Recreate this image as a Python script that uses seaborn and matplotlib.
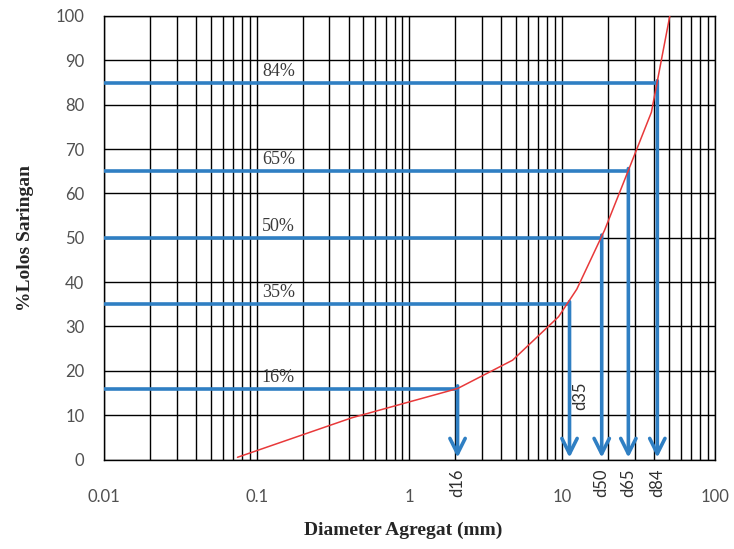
import numpy as np
import pandas as pd
import matplotlib
matplotlib.use("Agg")
import matplotlib.pyplot as plt
from matplotlib.ticker import FixedLocator, FixedFormatter, LogLocator, NullFormatter
import seaborn as sns

# ---- data ----
sieve_mm = [0.075, 0.42, 2.07, 4.75, 9.5, 12.5, 19.0, 25.0, 38.5, 50.8]
passing_pct = [0.5, 9.4, 16.0, 22.4, 32.2, 38.4, 51.7, 62.0, 78.3, 100.0]

pct_levels = [16.0, 35.0, 50.0, 65.0, 84.8]
pct_labels = ["16%", "35%", "50%", "65%", "84%"]
d_values = [2.07, 11.2, 18.2, 27.2, 42.1]
d_labels = ["d16", "d35", "d50", "d65", "d84"]

x_ticks = [0.01, 0.1, 1, 10, 100]
x_tick_labels = ["0.01", "0.1", "1", "10", "100"]
y_ticks = list(range(0, 101, 10))

x_label = "Diameter Agregat (mm)"
y_label = "%Lolos Saringan"

# ---- styling ----
sns.set_style("white")
plt.rcParams["font.family"] = ["Lato", "DejaVu Sans"]

blue = "#2F7FC3"
red = "#E8393A"
grey_txt = "#505050"

fig = plt.figure(figsize=(7.34, 5.49), dpi=100)
ax = fig.add_axes([103.9 / 734, 1 - 459.5 / 549, 610.8 / 734, 443.5 / 549])

ax.set_xscale("log")
ax.set_xlim(0.01, 100)
ax.set_ylim(0, 100)

# grid
ax.xaxis.set_major_locator(FixedLocator(x_ticks))
ax.xaxis.set_major_formatter(FixedFormatter(x_tick_labels))
ax.xaxis.set_minor_locator(LogLocator(base=10, subs=np.arange(2, 10)))
ax.xaxis.set_minor_formatter(NullFormatter())
ax.set_yticks(y_ticks)
ax.grid(True, which="both", axis="x", color="black", lw=1.0, zorder=0)
ax.grid(True, which="major", axis="y", color="black", lw=1.0, zorder=0)
ax.set_axisbelow(True)

for s in ax.spines.values():
    s.set_color("black")
    s.set_linewidth(1.0)

ax.tick_params(axis="x", which="major", direction="out", length=6, width=1,
               color="black", pad=15, labelsize=12, labelcolor=grey_txt)
ax.tick_params(axis="x", which="minor", length=0)
ax.tick_params(axis="y", which="major", direction="out", length=6, width=1,
               color="black", pad=8, labelsize=12, labelcolor=grey_txt)

# blue guide lines
ax.hlines(pct_levels, xmin=0.01, xmax=d_values, colors=blue, lw=2.6, zorder=3)
for lvl, lab in zip(pct_levels, pct_labels):
    ax.text(0.139, lvl + 2.6, lab, ha="center", va="center", fontsize=13,
            family="Liberation Serif", color="#3a3a3a", zorder=5)
for d, lvl in zip(d_values, pct_levels):
    ax.annotate("", xy=(d, 0.4), xytext=(d, lvl + 0.6),
                arrowprops=dict(arrowstyle="->,head_length=11,head_width=5.5",
                                mutation_scale=1, color=blue, lw=2.6,
                                shrinkA=0, shrinkB=0),
                zorder=3)

# red grading curve
df = pd.DataFrame({"d": sieve_mm, "p": passing_pct})
sns.lineplot(data=df, x="d", y="p", sort=False, color=red, lw=1.1, ax=ax,
             zorder=4, legend=False)
ax.set_xlim(0.01, 100)
ax.set_ylim(0, 100)

# d labels
for d, lab in zip(d_values, d_labels):
    if lab == "d35":
        ax.text(13.2, 14.3, lab, rotation=90, ha="center", va="center",
                fontsize=12, color="#303030", zorder=5)
    else:
        ax.text(d, -5.2, lab, rotation=90, ha="center", va="center",
                fontsize=12, color="#303030", clip_on=False)

ax.set_xlabel(x_label, family="Liberation Serif", fontweight="bold",
              fontsize=14, va="center", ha="center")
ax.xaxis.set_label_coords(0.49, -0.159)
ax.set_ylabel(y_label, family="Liberation Serif", fontweight="bold",
              fontsize=14, va="center", ha="center")
ax.yaxis.set_label_coords(-0.129, 0.5)

fig.savefig("out.png", dpi=100)
